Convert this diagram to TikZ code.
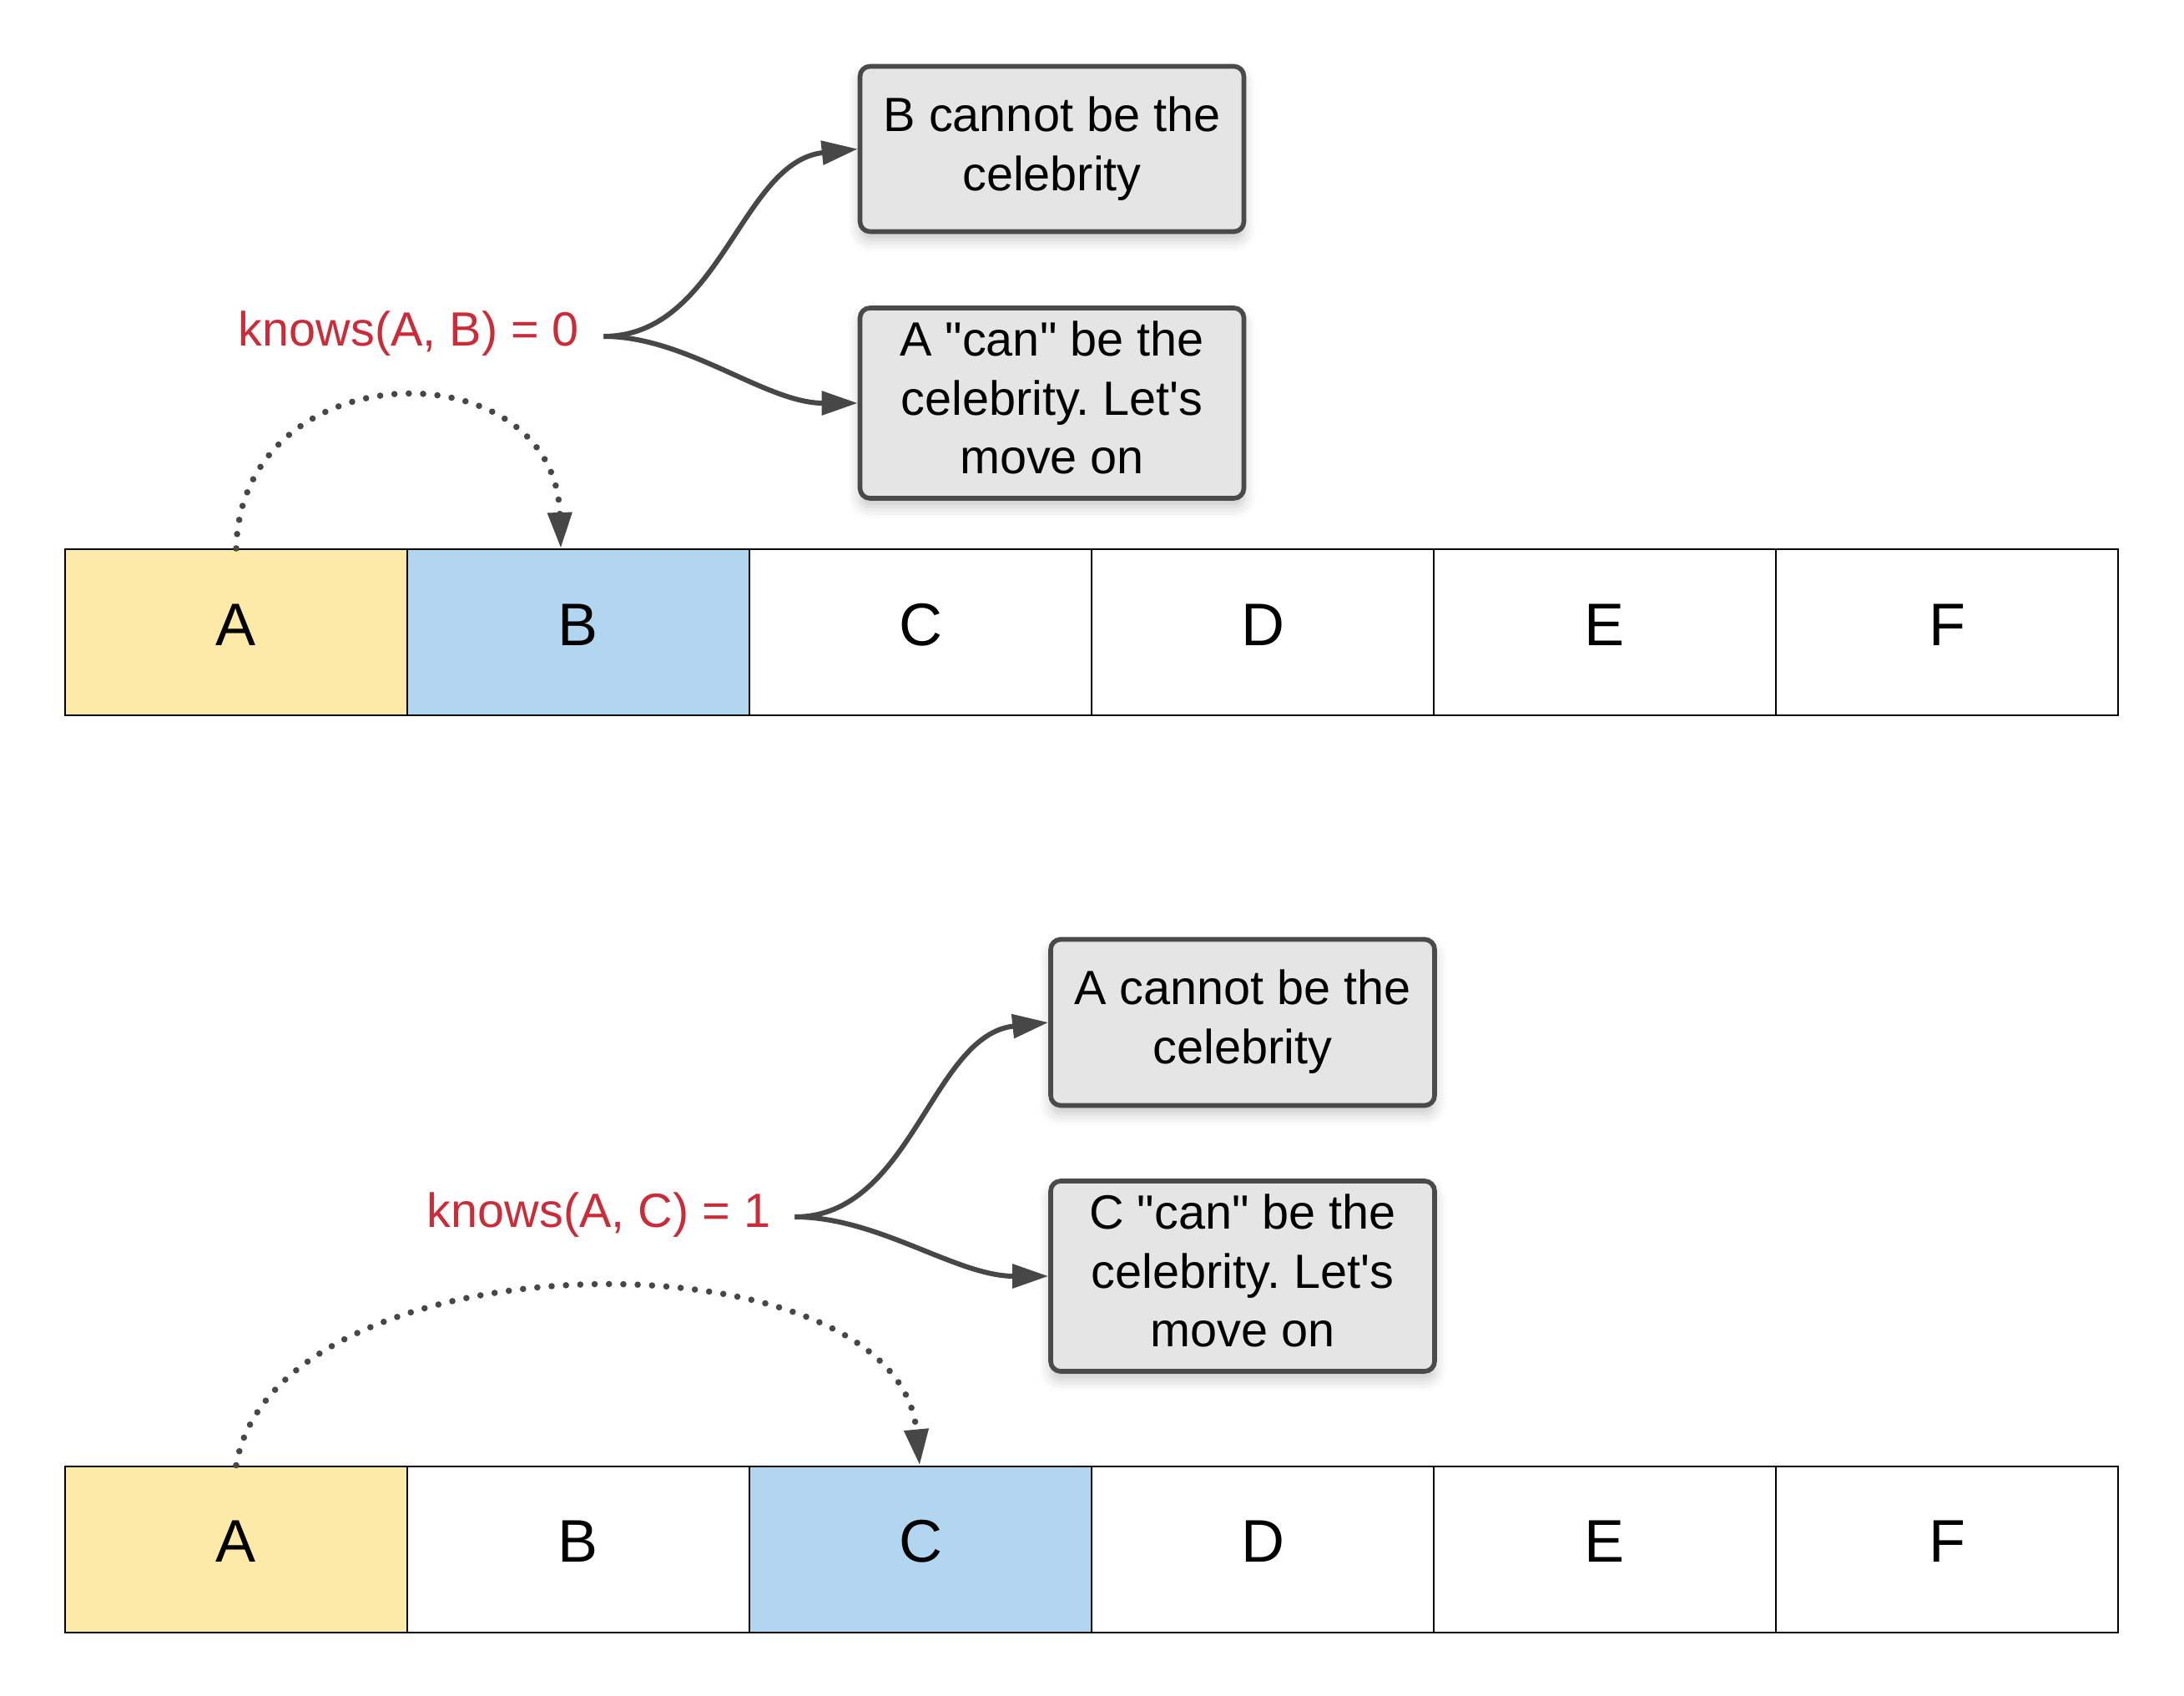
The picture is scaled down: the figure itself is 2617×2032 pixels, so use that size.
\documentclass[tikz,border=0pt]{standalone}
\usepackage{fontspec}
\setmainfont{Liberation Sans}
\usetikzlibrary{arrows.meta,shadows.blur,calc}
\definecolor{cellA}{HTML}{FDEAA8}
\definecolor{cellB}{HTML}{B3D6F0}
\definecolor{boxfill}{HTML}{E5E5E5}
\definecolor{boxline}{HTML}{4A4A4A}
\definecolor{arrowgray}{HTML}{474747}
\definecolor{knowred}{HTML}{C92D39}
\font\plainq="Liberation Sans" at 14.4pt
\newcommand{\dq}{{\plainq\char34}}
\newcommand{\sq}{{\plainq\char39}}
\frenchspacing
\begin{document}
\begin{tikzpicture}[x=0.25pt,y=-0.25pt,
  cell/.style={draw=black, line width=0.5pt, minimum width=102.5pt, minimum height=49.75pt,
    inner sep=0pt, font=\fontsize{18pt}{21.6pt}\selectfont, text height=12.9pt, text depth=5pt},
  cellyellow/.style={cell, fill=cellA},
  cellblue/.style={cell, fill=cellB},
  infobox/.style={draw=boxline, fill=boxfill, line width=1.4pt, rounded corners=3pt,
    minimum width=115pt, align=center, inner sep=0pt,
    font=\fontsize{14.4pt}{17.7pt}\selectfont\frenchspacing,
    blur shadow={shadow xshift=0pt, shadow yshift=-2.5pt, shadow blur radius=3.5pt, shadow opacity=22}},
  lbl/.style={text=knowred, font=\fontsize{14.4pt}{17.7pt}\selectfont, text height=12.5pt,
    text depth=6.5pt, inner xsep=7.1pt, inner ysep=0pt},
  conn/.style={draw=arrowgray, line width=1.5pt, -{Triangle[length=10.75pt,width=7pt]}},
  dotconn/.style={draw=arrowgray, line width=1.9pt, line cap=round, dash pattern=on 0pt off 4.3pt,
    -{Triangle[length=10.75pt,width=7pt]}}
]
\useasboundingbox (0,0) rectangle (2617,2032);

% ---------- top row ----------
\node[cellyellow] (a1) at (283,757.5) {A};
\node[cellblue]   (b1) at (693,757.5) {B};
\node[cell]       (c1) at (1103,757.5) {C};
\node[cell]       (d1) at (1513,757.5) {D};
\node[cell]       (e1) at (1923,757.5) {E};
\node[cell]       (f1) at (2333,757.5) {F};

\node[infobox, minimum height=49.5pt] (box1) at (1260.5,178.5)
  {\strut B cannot be the\\\strut celebrity};
\node[infobox, minimum height=57pt] (box2) at (1260.5,483)
  {\strut A \dq can\dq{} be the\\\strut celebrity. Let\sq s\\\strut move on};

\node[lbl] (k1) at (490,403) {knows(A, B) = 0};

\draw[conn] (k1.east) .. controls +(140,0) and +(-140,15) .. (box1.west);
\draw[conn] (k1.east) .. controls +(100,0) and +(-110,0) .. (box2.west);

\coordinate (t1) at ($(b1.north)+(-21,0)$);
\draw[dotconn] (a1.north) .. controls +(6,-238) and +(-7,-242) .. (t1);

% ---------- bottom row ----------
\node[cellyellow] (a2) at (283,1856) {A};
\node[cell]       (b2) at (693,1856) {B};
\node[cellblue]   (c2) at (1103,1856) {C};
\node[cell]       (d2) at (1513,1856) {D};
\node[cell]       (e2) at (1923,1856) {E};
\node[cell]       (f2) at (2333,1856) {F};

\node[infobox, minimum height=49.75pt] (box3) at (1489,1225)
  {\strut A cannot be the\\\strut celebrity};
\node[infobox, minimum height=57pt] (box4) at (1489,1529)
  {\strut C \dq can\dq{} be the\\\strut celebrity. Let\sq s\\\strut move on};

\node[lbl] (k2) at (717.5,1458) {knows(A, C) = 1};

\draw[conn] (k2.east) .. controls +(140,0) and +(-140,15) .. (box3.west);
\draw[conn] (k2.east) .. controls +(100,0) and +(-110,0) .. (box4.west);

\coordinate (t2) at ($(c2.north)+(-1,0)$);
\draw[dotconn] (a2.north) .. controls +(47,-277) and +(-27,-287) .. (t2);
\end{tikzpicture}
\end{document}
